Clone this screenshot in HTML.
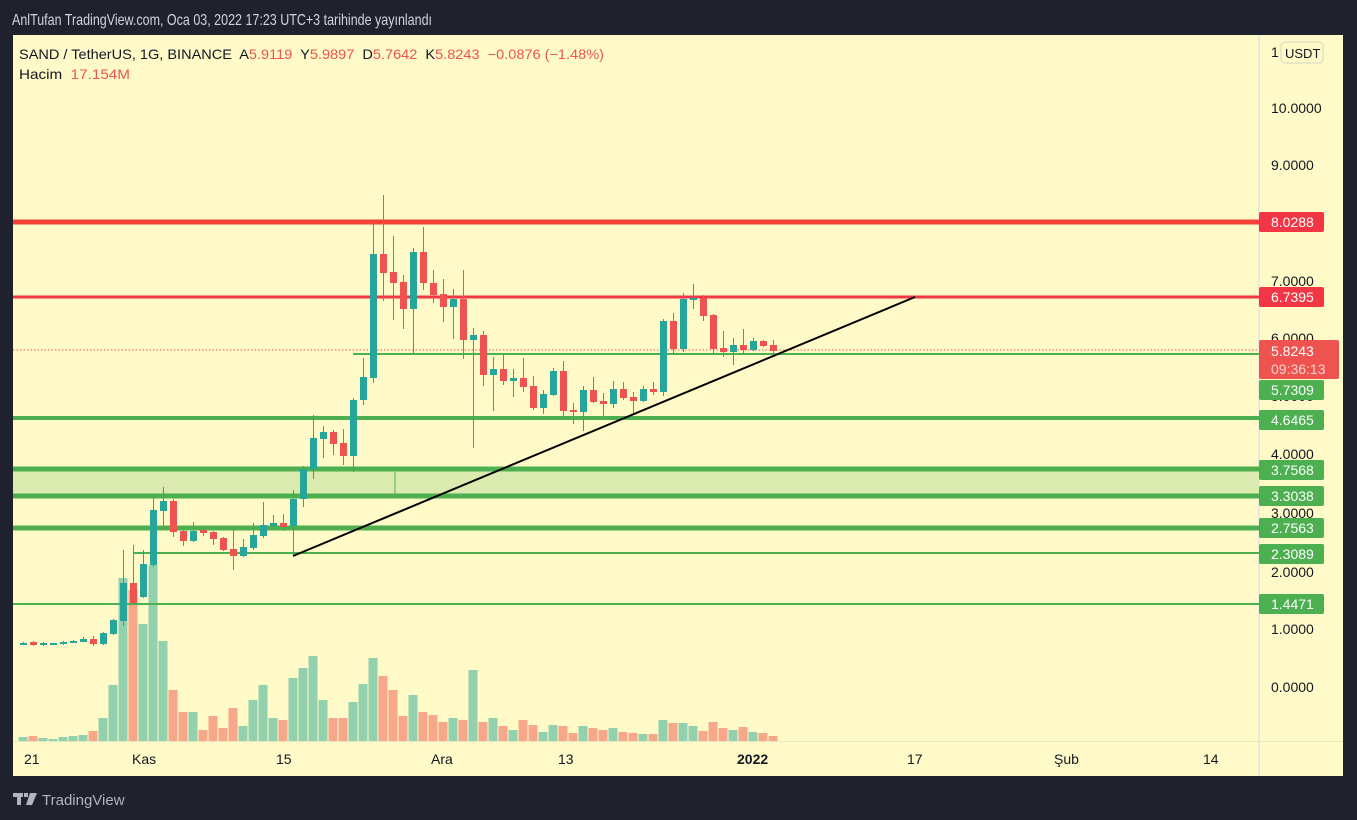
<!DOCTYPE html>
<html><head><meta charset="utf-8"><style>
body{margin:0;width:1357px;height:820px;background:#1f222d;overflow:hidden;font-family:"Liberation Sans",sans-serif;}
svg{position:absolute;left:0;top:0}
</style></head><body>
<svg width="1357" height="820" xmlns="http://www.w3.org/2000/svg" id="s">
<rect x="0" y="0" width="1357" height="820" fill="#1f222d"/>
<text x="12" y="25" fill="#d1d4dc" font-size="16" textLength="420" lengthAdjust="spacingAndGlyphs">AnlTufan TradingView.com, Oca 03, 2022 17:23 UTC+3 tarihinde yayınlandı</text>
<rect x="13" y="35" width="1330" height="741" fill="#fffac8"/>
<line x1="1259" y1="35" x2="1259" y2="776" stroke="#d6dae3" stroke-width="1"/>
<line x1="13" y1="741.5" x2="1343" y2="741.5" stroke="#e8e6c0" stroke-width="1"/>
<g font-size="14" fill="#131722">
<text x="1271" y="57">1</text>
<rect x="1281" y="42" width="42" height="21" rx="4" fill="#fffac8" stroke="#d6d6c0"/>
<text x="1285" y="58" font-size="13">USDT</text>
<text x="1271" y="113">10.0000</text>
<text x="1271" y="170">9.0000</text>
<text x="1271" y="286">7.0000</text>
<text x="1271" y="343">6.0000</text>
<text x="1271" y="459">4.0000</text>
<text x="1271" y="518">3.0000</text>
<text x="1271" y="577">2.0000</text>
<text x="1271" y="634">1.0000</text>
<text x="1271" y="692">0.0000</text>
<text x="1271" y="401">5.0000</text>
</g>
<g id="g"></g>
<g font-size="14" fill="#131722">
<text x="19" y="59" textLength="585" lengthAdjust="spacingAndGlyphs" xml:space="preserve">SAND / TetherUS, 1G, BINANCE  A<tspan fill="#ef5350">5.9119</tspan>  Y<tspan fill="#ef5350">5.9897</tspan>  D<tspan fill="#ef5350">5.7642</tspan>  K<tspan fill="#ef5350">5.8243  −0.0876 (−1.48%)</tspan></text>
<text x="19" y="79" textLength="111" lengthAdjust="spacingAndGlyphs" xml:space="preserve">Hacim  <tspan fill="#ef5350">17.154M</tspan></text>
</g>
<g font-size="14" fill="#131722">
<text x="24" y="764">21</text>
<text x="132" y="764">Kas</text>
<text x="276" y="764">15</text>
<text x="431" y="764">Ara</text>
<text x="558" y="764">13</text>
<text x="737" y="764" font-weight="bold">2022</text>
<text x="907" y="764">17</text>
<text x="1054" y="764">Şub</text>
<text x="1203" y="764">14</text>
</g>
<g fill="#b2b5be">
<rect x="13" y="793" width="10" height="4"/><rect x="17" y="793" width="4" height="12"/>
<rect x="24" y="793" width="4" height="4"/><path d="M30 793 h7 l-5 12 h-6z"/>
</g>
<text x="42" y="805" fill="#b2b5be" font-size="15">TradingView</text>
</svg>
<script>
var g=document.getElementById('g'),h='';
var G='#26a69a',R='#ef5350';
var vol=[[23,737,1],[33,736,0],[43,738,1],[53,739,1],[63,737,1],[73,736,1],[83,735,1],[93,731,0],[103,718,1],[113,685,1],[123,578,1],[133,590,0],[143,624,1],[153,565,1],[163,641,1],[173,690,0],[183,712,0],[193,712,1],[203,730,0],[213,716,0],[223,728,0],[233,708,0],[243,726,1],[253,700,1],[263,685,1],[273,718,1],[283,720,0],[293,678,1],[303,668,1],[313,656,1],[323,700,1],[333,718,0],[343,718,0],[353,702,1],[363,684,1],[373,658,1],[383,676,0],[393,690,0],[403,716,0],[413,695,1],[423,712,0],[433,715,0],[443,722,0],[453,718,1],[463,720,0],[473,670,1],[483,722,0],[493,718,1],[503,726,0],[513,730,1],[523,720,0],[533,725,0],[543,732,1],[553,725,1],[563,726,0],[573,733,0],[583,726,1],[593,728,0],[603,730,0],[613,728,1],[623,732,0],[633,733,0],[643,734,1],[653,734,0],[663,720,1],[673,723,0],[683,723,1],[693,726,1],[703,731,0],[713,722,0],[723,728,0],[733,730,1],[743,727,0],[753,732,1],[763,733,0],[773,736,0]];
vol.forEach(function(v){h+='<rect x="'+(v[0]-4.5)+'" y="'+v[1]+'" width="9" height="'+(741-v[1])+'" fill="'+(v[2]?'#92d0ae':'#f7a88b')+'"/>';});
h+='<rect x="13" y="469" width="1246" height="27" fill="#dbebb0"/>';
h+='<line x1="395" y1="472" x2="395" y2="494" stroke="#4caf50" stroke-width="1"/>';
var L=[[222,5,R,13],[297,3,'#f23645',13],[354,2,'#4caf50',353],[418,4,'#4caf50',13],[469,5,'#4caf50',13],[496,5,'#4caf50',13],[528,5,'#4caf50',13],[553,2,'#4caf50',133],[604,2,'#4caf50',13]];
L.forEach(function(l){h+='<line x1="'+l[3]+'" y1="'+l[0]+'" x2="1259" y2="'+l[0]+'" stroke="'+(l[2]==R?'#f44336':l[2])+'" stroke-width="'+l[1]+'"/>';});
h+='<line x1="13" y1="350" x2="1259" y2="350" stroke="#ef5350" stroke-width="1" stroke-dasharray="1.5,2"/>';
var c=[[23,645,643,642,645],[33,642,645,641,646],[43,645,643,642,646],[53,645,643,643,645],[63,644,642,641,645],[73,643,641,640,643],[83,642,639,637,642],[93,639,644,636,646],[103,644,633,632,645],[113,634,620,619,635],[123,621,583,550,626],[133,583,603,545,605],[143,597,564,550,598],[153,565,510,496,567],[163,511,501,487,530],[173,501,532,499,537],[183,531,541,530,546],[193,541,531,522,542],[203,530,533,528,536],[213,532,539,531,545],[223,538,550,537,551],[233,549,556,529,570],[243,556,547,539,557],[253,548,535,523,550],[263,536,525,502,538],[273,526,523,515,529],[283,523,527,514,531],[293,526,499,490,556],[303,499,469,466,507],[313,469,438,415,479],[323,439,432,426,458],[333,432,444,430,455],[343,443,456,429,465],[353,456,400,398,472],[363,400,377,358,405],[373,378,254,222,383],[383,254,273,195,301],[393,272,283,236,320],[403,282,309,275,329],[413,309,252,248,353],[423,252,283,227,290],[433,283,295,270,303],[443,294,307,279,322],[453,307,299,289,339],[463,299,340,270,359],[473,340,335,328,448],[483,335,375,331,386],[493,375,369,357,411],[503,369,381,355,385],[513,381,378,369,397],[523,378,387,358,392],[533,386,408,376,410],[543,408,394,390,414],[553,395,371,368,396],[563,371,411,361,416],[573,410,412,403,424],[583,412,390,386,431],[593,390,402,377,403],[603,401,404,393,417],[613,404,389,381,408],[623,389,398,382,400],[633,397,401,392,414],[643,401,389,386,402],[653,389,392,382,395],[663,392,321,319,396],[673,321,349,313,354],[683,349,299,293,352],[693,300,298,284,309],[703,298,316,295,321],[713,315,349,314,355],[723,348,352,331,357],[733,352,345,338,365],[743,345,350,329,355],[753,350,341,338,351],[763,341,346,340,347],[773,345,351,340,353]];
c.forEach(function(k){var up=k[2]<k[1],col=up?G:R,t=Math.min(k[1],k[2]),b=Math.max(k[1],k[2]);if(b-t<2)b=t+2;
h+='<line x1="'+(k[0]+.5)+'" y1="'+k[3]+'" x2="'+(k[0]+.5)+'" y2="'+k[4]+'" stroke="'+col+'" stroke-width="1"/>';
h+='<rect x="'+(k[0]-3)+'" y="'+t+'" width="7" height="'+(b-t)+'" fill="'+col+'"/>';});
h+='<line x1="293" y1="556" x2="915" y2="297" stroke="#000" stroke-width="2"/>';
function lab(y,txt,col){h+='<rect x="1259" y="'+(y-10)+'" width="65" height="20" rx="2" fill="'+col+'"/><text x="1271" y="'+(y+5)+'" fill="#fff" font-size="14" font-family="Liberation Sans,sans-serif">'+txt+'</text>';}
lab(222,'8.0288','#f23645');lab(297,'6.7395','#f23645');
h+='<rect x="1259" y="340" width="80" height="39" rx="2" fill="#ef5350"/><text x="1271" y="356" fill="#fff" font-size="14">5.8243</text><text x="1271" y="374" fill="#fbd2d1" font-size="14">09:36:13</text>';
lab(390,'5.7309','#4caf50');lab(420,'4.6465','#4caf50');lab(470,'3.7568','#4caf50');lab(496,'3.3038','#4caf50');lab(528,'2.7563','#4caf50');lab(554,'2.3089','#4caf50');lab(604,'1.4471','#4caf50');
g.innerHTML=h;
</script>
</body></html>
